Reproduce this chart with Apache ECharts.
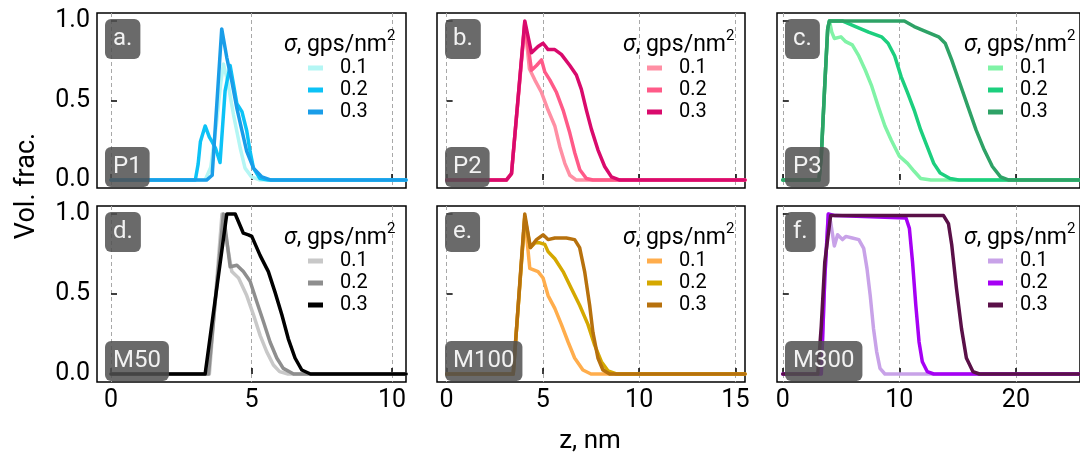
<!DOCTYPE html>
<html><head><meta charset="utf-8">
<script src="https://cdn.jsdelivr.net/npm/echarts@6/dist/echarts.min.js"></script>
<style>html,body{margin:0;padding:0;background:#fff}#c{width:1080px;height:455px}</style>
</head><body><div id="c"></div>
<script>
// ---------- data ----------
const sigmaLabels = ['0.1', '0.2', '0.3'];
const panelNames = ['P1', 'P2', 'P3', 'M50', 'M100', 'M300'];
const panelLetters = ['a.', 'b.', 'c.', 'd.', 'e.', 'f.'];
const xTicksSmall = [0, 5, 10];
const xTicksMid = [0, 5, 10, 15];
const xTicksLarge = [0, 10, 20];
const yTicks = [0, 0.5, 1];
const xLimSmall = [-0.5, 10.5];
const xLimMid = [-0.5, 15.5];
const xLimLarge = [-0.5, 25.5];
const yLim = [-0.05, 1.05];

// P1
const P1_01 = [[0,0],[3.35,0],[3.55,0.08],[3.75,0.35],[3.9,0.6],[4.0,0.73],[4.15,0.62],[4.36,0.41],[4.6,0.2],[4.77,0.075],[5.0,0.02],[5.3,0],[10.5,0]];
const P1_02 = [[0,0],[3.0,0],[3.1,0.1],[3.18,0.24],[3.35,0.34],[3.5,0.27],[3.6,0.24],[3.72,0.2],[3.88,0.11],[4.06,0.56],[4.24,0.72],[4.36,0.6],[4.48,0.48],[4.66,0.43],[4.83,0.31],[4.95,0.18],[5.07,0.075],[5.3,0.01],[5.6,0],[10.5,0]];
const P1_03 = [[0,0],[3.4,0],[3.6,0.03],[3.94,0.95],[4.12,0.77],[4.3,0.62],[4.48,0.45],[4.66,0.31],[4.83,0.18],[5.07,0.075],[5.37,0.02],[5.7,0],[10.5,0]];
// P2
const P2_01 = [[0,0],[3.1,0],[3.37,0.04],[4.06,0.98],[4.3,0.7],[4.58,0.63],[4.93,0.55],[5.27,0.44],[5.62,0.34],[5.88,0.21],[6.14,0.105],[6.4,0.03],[6.74,0],[15.5,0]];
const P2_02 = [[0,0],[3.1,0],[3.37,0.04],[4.06,0.99],[4.41,0.69],[4.67,0.72],[4.93,0.755],[5.1,0.68],[5.36,0.63],[5.71,0.55],[6.05,0.44],[6.4,0.295],[6.66,0.17],[6.92,0.065],[7.26,0.01],[7.6,0],[15.5,0]];
const P2_03 = [[0,0],[3.1,0],[3.37,0.04],[4.06,1.0],[4.41,0.8],[4.75,0.84],[5.01,0.86],[5.27,0.82],[5.62,0.82],[5.96,0.79],[6.4,0.72],[6.74,0.66],[7.0,0.57],[7.26,0.44],[7.52,0.32],[7.86,0.19],[8.21,0.085],[8.56,0.02],[9.0,0],[15.5,0]];
// P3
const P3_01 = [[0,0],[3.1,0],[3.3,0.15],[3.6,0.6],[3.85,0.95],[4.0,1.0],[4.2,0.93],[4.42,0.89],[4.98,0.9],[5.4,0.87],[5.96,0.85],[6.52,0.78],[7.08,0.69],[7.63,0.59],[8.2,0.46],[8.76,0.34],[9.31,0.25],[10.0,0.15],[10.7,0.105],[11.27,0.055],[11.83,0.01],[12.7,0],[26,0]];
const P3_02 = [[0,0],[3.1,0],[3.3,0.15],[3.6,0.6],[3.85,0.95],[4.0,1.0],[5.1,1.0],[6.24,0.965],[7.36,0.93],[8.47,0.9],[9.03,0.86],[9.6,0.78],[10.15,0.65],[10.7,0.55],[11.27,0.44],[11.83,0.315],[12.39,0.21],[12.95,0.105],[13.5,0.044],[14.35,0.01],[15.1,0],[26,0]];
const P3_03 = [[0,0],[3.1,0],[3.3,0.15],[3.6,0.6],[3.85,0.95],[4.0,1.0],[10.43,1.0],[11.27,0.965],[12.39,0.93],[13.37,0.9],[13.93,0.86],[14.49,0.755],[15.18,0.61],[15.89,0.46],[16.58,0.315],[17.28,0.19],[17.98,0.085],[18.68,0.02],[19.4,0],[26,0]];
// M50
const M50_01 = [[0,0],[3.5,0],[3.95,1.0],[4.3,0.64],[4.54,0.6],[4.83,0.49],[5.07,0.37],[5.31,0.24],[5.54,0.14],[5.78,0.056],[6.0,0.015],[6.3,0],[10.5,0]];
const M50_02 = [[0,0],[3.47,0],[4.0,1.0],[4.24,0.67],[4.48,0.68],[4.71,0.64],[4.95,0.58],[5.19,0.45],[5.42,0.33],[5.66,0.2],[5.9,0.1],[6.13,0.035],[6.5,0],[10.5,0]];
const M50_03 = [[0,0],[3.35,0],[4.12,1.0],[4.42,1.0],[4.71,0.88],[4.89,0.87],[5.01,0.86],[5.31,0.74],[5.6,0.64],[5.84,0.51],[6.08,0.37],[6.31,0.22],[6.55,0.1],[6.79,0.025],[7.1,0],[10.5,0]];
// M100
const M100_01 = [[0,0],[3.46,0],[4.06,0.98],[4.32,0.66],[4.75,0.64],[5.01,0.6],[5.27,0.49],[5.62,0.41],[5.96,0.31],[6.31,0.2],[6.65,0.1],[7.08,0.025],[7.5,0],[15.5,0]];
const M100_02 = [[0,0],[3.46,0],[4.06,0.98],[4.35,0.79],[4.6,0.82],[4.84,0.82],[5.1,0.81],[5.27,0.765],[5.62,0.72],[6.05,0.64],[6.48,0.535],[6.91,0.43],[7.34,0.31],[7.69,0.18],[8.04,0.077],[8.38,0.02],[8.82,0],[15.5,0]];
const M100_03 = [[0,0],[3.46,0],[4.06,1.0],[4.35,0.79],[4.67,0.84],[5.01,0.87],[5.27,0.84],[5.62,0.85],[6.22,0.85],[6.65,0.84],[6.91,0.79],[7.17,0.64],[7.43,0.43],[7.6,0.26],[7.86,0.1],[8.12,0.025],[8.47,0],[15.5,0]];
// M300
const M300_01 = [[0,0],[3.3,0],[3.6,0.6],[3.9,1.0],[4.1,0.95],[4.42,0.8],[4.7,0.87],[5.12,0.84],[5.4,0.86],[5.96,0.85],[6.52,0.84],[6.94,0.785],[7.22,0.66],[7.5,0.49],[7.78,0.285],[8.05,0.14],[8.34,0.035],[8.76,0],[26,0]];
const M300_02 = [[0,0],[3.3,0],[3.6,0.6],[3.9,1.0],[4.5,0.99],[10.57,0.975],[10.86,0.91],[11.13,0.7],[11.41,0.43],[11.69,0.2],[11.97,0.077],[12.39,0.015],[12.95,0],[26,0]];
const M300_03 = [[0,0],[3.0,0],[3.3,0.3],[3.6,0.7],[4.1,0.99],[13.79,0.99],[14.21,0.94],[14.49,0.81],[14.9,0.535],[15.33,0.285],[15.75,0.1],[16.31,0.015],[16.87,0],[26,0]];

// ---------- styles / layout ----------
const panelSeries = [[P1_01,P1_02,P1_03],[P2_01,P2_02,P2_03],[P3_01,P3_02,P3_03],
                     [M50_01,M50_02,M50_03],[M100_01,M100_02,M100_03],[M300_01,M300_02,M300_03]];
const panelColors = [
  ['#b4f6f4', '#0cc2f6', '#1a9de8'],
  ['#ff8fa4', '#ff5a88', '#d90a6c'],
  ['#80f3a6', '#1ccf7e', '#2ea266'],
  ['#c8c8c8', '#8e8e8e', '#000000'],
  ['#ffad4c', '#d5a800', '#b7710d'],
  ['#c8a2e8', '#a600f4', '#5a1048']
];
const xLims = [xLimSmall, xLimMid, xLimLarge, xLimSmall, xLimMid, xLimLarge];
const xTickSets = [xTicksSmall, xTicksMid, xTicksLarge, xTicksSmall, xTicksMid, xTicksLarge];
const cols = [{left: 97, width: 309}, {left: 437, width: 308}, {left: 777, width: 309}];
const rows = [{top: 13, height: 175}, {top: 206, height: 176}];
const FONT = 'Roboto';

const grid = [], xAxis = [], yAxis = [], series = [], legend = [], graphic = [];
for (let p = 0; p < 6; p++) {
  const c = cols[p % 3], r = rows[Math.floor(p / 3)];
  const isBottom = p >= 3, isLeft = p % 3 === 0;
  const R = c.left + c.width;
  grid.push({left: c.left, top: r.top, width: c.width, height: r.height,
    show: true, borderColor: '#000', borderWidth: 1.5, backgroundColor: 'transparent', containLabel: false});
  xAxis.push({type: 'value', gridIndex: p, min: xLims[p][0], max: xLims[p][1],
    axisLine: {show: false},
    axisTick: {show: true, inside: true, length: 6, customValues: xTickSets[p], lineStyle: {color: '#000', width: 1.5}},
    axisLabel: {show: isBottom, customValues: xTickSets[p], margin: 6, fontSize: 25, fontFamily: FONT, color: '#000'},
    splitLine: {show: true, lineStyle: {color: '#a8a8a8', width: 1, type: [4, 3]}}
  });
  yAxis.push({type: 'value', gridIndex: p, min: yLim[0], max: yLim[1],
    axisLine: {show: false},
    axisTick: {show: true, inside: true, length: 6, customValues: yTicks, lineStyle: {color: '#000', width: 1.5}},
    axisLabel: {show: isLeft, customValues: yTicks, margin: 7, fontSize: 25, fontFamily: FONT, color: '#000',
      formatter: v => Number(v).toFixed(1)},
    splitLine: {show: false}
  });
  const names = [];
  for (let s = 0; s < 3; s++) {
    const nm = p + '|' + sigmaLabels[s];
    names.push(nm);
    series.push({type: 'line', name: nm, xAxisIndex: p, yAxisIndex: p, data: panelSeries[p][s],
      showSymbol: false, symbol: 'none', color: panelColors[p][s],
      lineStyle: {width: 3.5, color: panelColors[p][s], join: 'round', cap: 'round'}, clip: true, animation: false});
  }
  legend.push({data: names, orient: 'vertical', align: 'left', left: R - 98, top: r.top + 44, itemWidth: 27, itemHeight: 5,
    icon: 'path://M0,0H15V5H0Z M27,0L27,5', itemGap: 0, selectedMode: false, padding: 0,
    formatter: n => n.split('|')[1],
    textStyle: {fontSize: 20, fontFamily: FONT, color: '#000', lineHeight: 22}});
  // legend title
  graphic.push({type: 'text', x: R - 19, y: r.top + 32, z: 50,
    style: {text: '{i|σ}, gps/nm', fill: '#000', fontSize: 23, fontFamily: FONT,
      align: 'right', textAlign: 'right', verticalAlign: 'middle', textVerticalAlign: 'middle',
      rich: {i: {fontStyle: 'italic', fontSize: 23, fontFamily: FONT, fill: '#000'}}}});
  graphic.push({type: 'text', x: R - 19, y: r.top + 23, z: 50,
    style: {text: '2', fill: '#000', fontSize: 15, fontFamily: FONT, align: 'left', textAlign: 'left',
      verticalAlign: 'middle', textVerticalAlign: 'middle'}});
  // panel letter box
  graphic.push({type: 'text', x: c.left + 8, y: r.top + 6, z: 100,
    style: {text: panelLetters[p], font: '24px ' + FONT, fill: '#f2f2f2', backgroundColor: 'rgba(80,80,80,0.85)',
      borderRadius: 6, padding: [8, 8, 8, 8], lineHeight: 24}});
  graphic.push({type: 'text', x: c.left + 8, y: r.top + r.height - 41, z: 100,
    style: {text: panelNames[p], font: '24px ' + FONT, fill: '#f2f2f2', backgroundColor: 'rgba(80,80,80,0.85)',
      borderRadius: 6, padding: [8, 8, 8, 8], lineHeight: 24}});
}
graphic.push({type: 'text', x: 27, y: 186, rotation: Math.PI / 2, z: 50,
  style: {text: 'Vol. frac.', fill: '#000', font: '27px ' + FONT, align: 'center', textAlign: 'center',
    verticalAlign: 'middle', textVerticalAlign: 'middle'}});
graphic.push({type: 'text', x: 590, y: 441, z: 50,
  style: {text: 'z, nm', fill: '#000', font: '26px ' + FONT, align: 'center', textAlign: 'center',
    verticalAlign: 'middle', textVerticalAlign: 'middle'}});

const chart = echarts.init(document.getElementById('c'), null, {renderer: 'canvas'});
chart.setOption({animation: false, backgroundColor: '#fff', grid, xAxis, yAxis, series, legend, graphic});
</script></body></html>
